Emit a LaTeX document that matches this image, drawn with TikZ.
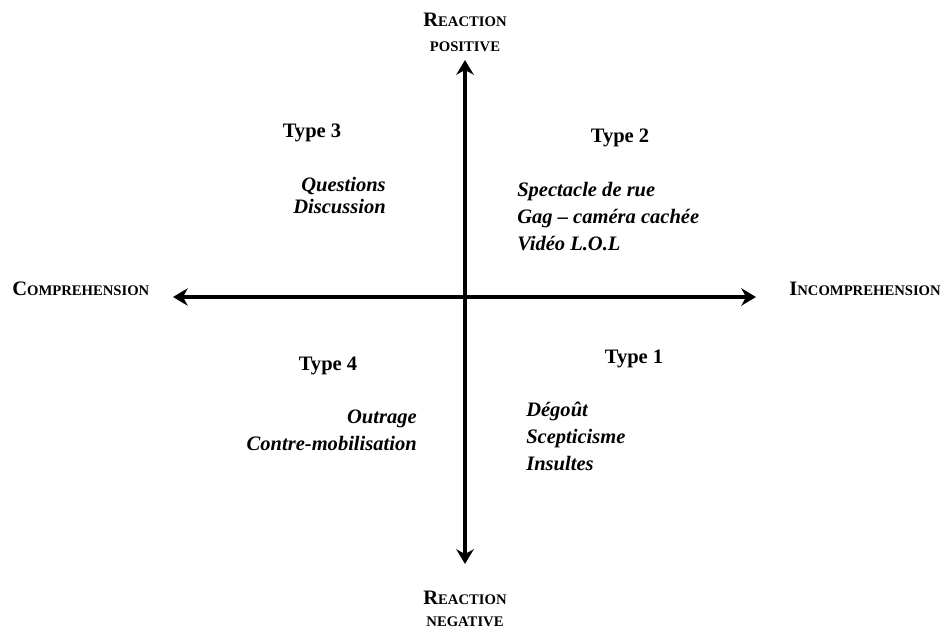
\documentclass[tikz,border=0pt]{standalone}
\usepackage{fontspec}
\setmainfont{Liberation Serif}
\usetikzlibrary{arrows.meta}

% fausses petites capitales
\newcommand{\petitcap}[2]{{\fontsize{15.4}{18}\selectfont #1}{\fontsize{11}{13}\selectfont #2}}

\begin{document}
\begin{tikzpicture}[x=0.75pt, y=-0.75pt,
  fleche/.tip={Stealth[length=11pt, width=13pt, inset=3.5pt]},
  axe/.style={line width=2.8pt, fleche-fleche},
  pole/.style={font=\bfseries, inner sep=0pt, anchor=base},
  titre/.style={font=\bfseries\fontsize{15.4}{18}\selectfont, inner sep=0pt, anchor=base},
  liste/.style={font=\bfseries\itshape\fontsize{15.4}{18}\selectfont, inner sep=0pt}]

  \useasboundingbox (0,0) rectangle (944,630);

  % Axes
  \coordinate (haut) at (465,60);
  \coordinate (bas) at (465,564);
  \coordinate (gauche) at (173,297);
  \coordinate (droite) at (756,297);
  \draw[axe] (bas) -- (haut);
  \draw[axe] (gauche) -- (droite);

  % Poles des axes
  \node[pole] (reacHaut) at (465,27) {\petitcap{R}{EACTION}};
  \node[pole] (positif) at (465,52) {\petitcap{}{POSITIVE}};
  \node[pole] (reacBas) at (465,604) {\petitcap{R}{EACTION}};
  \node[pole] (negatif) at (465,626) {\petitcap{}{NEGATIVE}};
  \node[pole, anchor=base west] (compr) at (12,296) {\petitcap{C}{OMPREHENSION}};
  \node[pole, anchor=base east] (incompr) at (941,296) {\petitcap{I}{NCOMPREHENSION}};

  % Types
  \node[titre] (type3) at (312,138) {Type 3};
  \node[titre] (type2) at (620,143) {Type 2};
  \node[titre] (type1) at (634,363) {Type 1};
  \node[titre] (type4) at (328,370) {Type 4};

  % Reactions par quadrant
  \foreach \mot [count=\i] in {Questions, Discussion}
    \node[liste, anchor=base east] (t3-\i) at (386,{192+21.5*(\i-1)}) {\mot};
  \foreach \mot [count=\i] in {Spectacle de rue, Gag – caméra cachée, Vidéo L.O.L}
    \node[liste, anchor=base west] (t2-\i) at (517,{197+27*(\i-1)}) {\mot};
  \foreach \mot [count=\i] in {Dégoût, Scepticisme, Insultes}
    \node[liste, anchor=base west] (t1-\i) at (526,{416+27*(\i-1)}) {\mot};
  \foreach \mot [count=\i] in {Outrage, Contre-mobilisation}
    \node[liste, anchor=base east] (t4-\i) at (417,{423+27*(\i-1)}) {\mot};

\end{tikzpicture}
\end{document}
